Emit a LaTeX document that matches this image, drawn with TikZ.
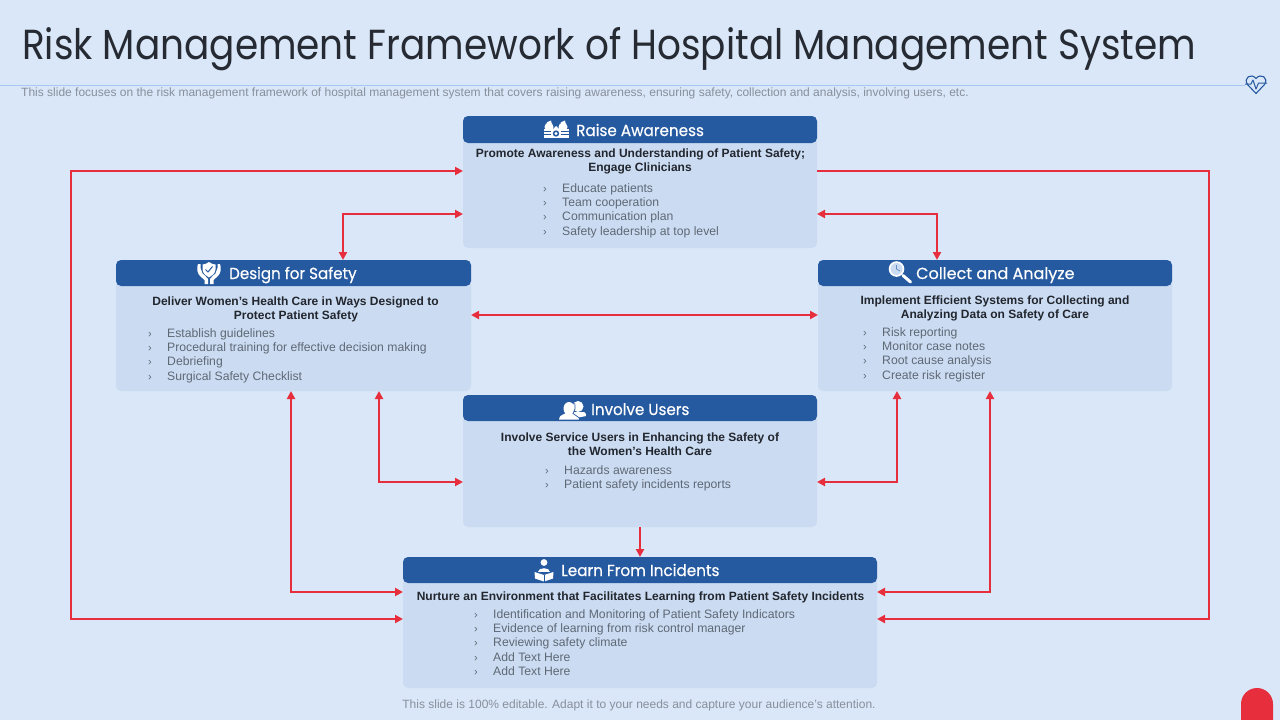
\documentclass[tikz,border=0pt]{standalone}
\usepackage{fontspec}
\setmainfont{Liberation Sans}
\newfontfamily\headf{Poppins}
\newfontfamily\headb[FakeBold=0.35]{Poppins}
\usetikzlibrary{arrows.meta,calc}
\definecolor{bgc}{HTML}{DAE7F8}
\definecolor{bodyc}{HTML}{CBDCF2}
\definecolor{headc}{HTML}{265AA0}
\definecolor{redc}{HTML}{E62E3D}
\definecolor{titlec}{HTML}{262B33}
\definecolor{boldc}{HTML}{22262E}
\definecolor{itemc}{HTML}{5F6875}
\definecolor{subc}{HTML}{878F9B}
\definecolor{rulec}{HTML}{A6C8F2}
\tikzset{
  panel/.style={anchor=north west,inner sep=0pt,outer sep=0pt,fill=bodyc,rounded corners=5pt},
  header/.style={anchor=north west,inner sep=0pt,outer sep=0pt,fill=headc,rounded corners=5pt},
  headtxt/.style={anchor=base west,inner sep=0pt,text=white,font=\headb\fontsize{16}{18}\selectfont},
  leadtxt/.style={anchor=base,inner sep=0pt,text=boldc,font=\bfseries\fontsize{12}{14}\selectfont},
  itemtxt/.style={anchor=base west,inner sep=0pt,text=itemc,font=\fontsize{12.2}{14}\selectfont},
  chev/.style={anchor=base west,inner sep=0pt,text=itemc,font=\fontsize{11}{14}\selectfont},
  conn/.style={draw=redc,line width=2pt},
  both/.style={conn,{Triangle[length=8pt,width=8pt]}-{Triangle[length=8pt,width=8pt]}},
  one/.style={conn,-{Triangle[length=8pt,width=8pt]}},
  icon/.style={fill=white,draw=none},
  iconl/.style={draw=white,fill=none},
}
\newcommand{\bul}[4]{%
  \node[chev] (#1c) at (#2-19,#3+0.5) {›};
  \node[itemtxt] (#1) at (#2,#3) {#4};}
\begin{document}
\begin{tikzpicture}[x=1pt,y=-1pt]
\useasboundingbox (0,0) rectangle (1280,720);
\fill[bgc] (0,0) rectangle (1280,720);

% title area
\node[anchor=base west,inner sep=0pt,text=titlec,font=\headf\fontsize{42}{46}\selectfont] (title) at (22,59.5) {\scalebox{0.891}[1]{Risk Management Framework of Hospital Management System}};
\draw[rulec,line width=0.8pt] (0,85) -- (1245,85);
\node[anchor=base west,inner sep=0pt,text=subc,font=\fontsize{12}{14}\selectfont] (sub) at (21,96) {This slide focuses on the risk management framework of hospital management system that covers raising awareness, ensuring safety, collection and analysis, involving users, etc.};
% heart icon
\draw[headc,line width=1.1pt,line join=round] (1256,93.5) -- (1247.5,84.5) .. controls (1243,78) and (1251,72.5) .. (1256,78.5) .. controls (1261,72.5) and (1269,78) .. (1264.5,84.5) -- cycle;
\draw[headc,line width=1pt,line join=round] (1245,84) -- (1251,84) -- (1253,80) -- (1256,89) -- (1258.5,83) -- (1267,83);

% panels
\node[panel,minimum width=354pt,minimum height=132pt] (raise) at (463,116) {};
\node[header,minimum width=354pt,minimum height=27pt] (raiseh) at (463,116) {};
\node[panel,minimum width=355pt,minimum height=131pt] (design) at (116,260) {};
\node[header,minimum width=355pt,minimum height=26pt] (designh) at (116,260) {};
\node[panel,minimum width=354pt,minimum height=131pt] (collect) at (818,260) {};
\node[header,minimum width=354pt,minimum height=26pt] (collecth) at (818,260) {};
\node[panel,minimum width=354pt,minimum height=132pt] (involve) at (463,395) {};
\node[header,minimum width=354pt,minimum height=26pt] (involveh) at (463,395) {};
\node[panel,minimum width=474pt,minimum height=131pt] (learn) at (403,557) {};
\node[header,minimum width=474pt,minimum height=26pt] (learnh) at (403,557) {};

% headings
\node[headtxt] (t1) at (576,136) {\scalebox{0.95}[1]{Raise Awareness}};
\node[headtxt] (t2) at (229,279) {\scalebox{0.945}[1]{Design for Safety}};
\node[headtxt] (t3) at (916,279) {\scalebox{1}[1]{Collect and Analyze}};
\node[headtxt] (t4) at (591,415) {\scalebox{0.945}[1]{Involve Users}};
\node[headtxt] (t5) at (561,576) {\scalebox{0.953}[1]{Learn From Incidents}};

% lead texts
\node[leadtxt] (l1a) at (640.5,157) {Promote Awareness and Understanding of Patient Safety;};
\node[leadtxt] (l1b) at (640,171) {Engage Clinicians};
\node[leadtxt] (l2a) at (295.5,305) {Deliver Women’s Health Care in Ways Designed to};
\node[leadtxt] (l2b) at (296,319) {Protect Patient Safety};
\node[leadtxt] (l3a) at (995,304) {Implement Efficient Systems for Collecting and};
\node[leadtxt] (l3b) at (995,318) {Analyzing Data on Safety of Care};
\node[leadtxt] (l4a) at (640,441) {Involve Service Users in Enhancing the Safety of};
\node[leadtxt] (l4b) at (640,455) {the Women’s Health Care};
\node[leadtxt] (l5a) at (640.5,600) {Nurture an Environment that Facilitates Learning from Patient Safety Incidents};

% items
\bul{a1}{562}{192}{Educate patients}
\bul{a2}{562}{206}{Team cooperation}
\bul{a3}{562}{220}{Communication plan}
\bul{a4}{562}{235}{Safety leadership at top level}
\bul{b1}{167}{337}{Establish guidelines}
\bul{b2}{167}{351}{Procedural training for effective decision making}
\bul{b3}{167}{365}{Debriefing}
\bul{b4}{167}{380}{Surgical Safety Checklist}
\bul{c1}{882}{336}{Risk reporting}
\bul{c2}{882}{350}{Monitor case notes}
\bul{c3}{882}{364}{Root cause analysis}
\bul{c4}{882}{379}{Create risk register}
\bul{d1}{564}{474}{Hazards awareness}
\bul{d2}{564}{488}{Patient safety incidents reports}
\bul{e1}{493}{618}{Identification and Monitoring of Patient Safety Indicators}
\bul{e2}{493}{632}{Evidence of learning from risk control manager}
\bul{e3}{493}{646}{Reviewing safety climate}
\bul{e4}{493}{661}{Add Text Here}
\bul{e5}{493}{675}{Add Text Here}

\node[anchor=base,inner sep=0pt,text=subc,font=\fontsize{12}{14}\selectfont] (foot) at (639,708) {This slide is 100\% editable. Adapt it to your needs and capture your audience’s attention.};

% connector ports
\coordinate (railL) at (71,0);
\coordinate (railR) at (1209,0);
\coordinate (ra1) at ($(raise.north west)+(0,55)$);
\coordinate (ra2) at ($(raise.north west)+(0,98)$);
\coordinate (rb1) at ($(raise.north east)+(0,55)$);
\coordinate (rb2) at ($(raise.north east)+(0,98)$);
\coordinate (dTop) at ($(design.north west)+(227,0)$);
\coordinate (cTop) at ($(collect.north west)+(119,0)$);
\coordinate (dE) at ($(design.north east)+(0,55)$);
\coordinate (cW) at ($(collect.north west)+(0,55)$);
\coordinate (dB1) at ($(design.south west)+(175,0)$);
\coordinate (dB2) at ($(design.south west)+(263,0)$);
\coordinate (cB1) at ($(collect.south west)+(79,0)$);
\coordinate (cB2) at ($(collect.south west)+(172,0)$);
\coordinate (iW) at ($(involve.north west)+(0,87)$);
\coordinate (iE) at ($(involve.north east)+(0,87)$);
\coordinate (lW1) at ($(learn.north west)+(0,35)$);
\coordinate (lW2) at ($(learn.north west)+(0,62)$);
\coordinate (lE1) at ($(learn.north east)+(0,35)$);
\coordinate (lE2) at ($(learn.north east)+(0,62)$);

% connectors
\draw[one] (rb1) -- (railR |- rb1) -- (railR |- lE2) -- (lE2);
\draw[both] (lW2) -- (railL |- lW2) -- (railL |- ra1) -- (ra1);
\draw[both] (ra2) -| (dTop);
\draw[both] (rb2) -| (cTop);
\draw[both] (dE) -- (cW);
\draw[both] (dB1) |- (lW1);
\draw[both] (dB2) |- (iW);
\draw[both] (cB1) |- (iE);
\draw[both] (cB2) |- (lE1);
\draw[one] (involve.south) -- (learn.north);

% corner tab
\fill[redc] (1241,720) -- (1241,704) arc[start angle=180,end angle=0,x radius=16,y radius=-16] -- (1273,720) -- cycle;

% icon: raise awareness
\fill[icon] (543.5,129) rectangle (569,138);
\fill[icon] (549,127) circle[radius=4.5];
\fill[icon] (563,127) circle[radius=4.5];
\fill[icon] (546.5,122.5) -- (551,120.5) -- (552,125) -- cycle;
\fill[icon] (560.5,122.5) -- (565,120.5) -- (566,125) -- cycle;
\fill[icon] (551,131) -- (556,126) -- (561,131) -- cycle;
\fill[headc] (556,133.5) circle[radius=3.2];
\fill[icon] (556,133.5) circle[radius=1.7];
\draw[headc,line width=0.7pt] (544,131.5) -- (551,131.5) (544,134) -- (551,134) (561,131.5) -- (568.5,131.5) (561,134) -- (568.5,134);

% icon: hands and shield
\fill[icon] (209,262) .. controls (206,264) and (204,264.5) .. (202.5,264.5) -- (202.5,269.5) .. controls (203,273.5) and (206,276) .. (209,277.5) .. controls (212,276) and (215,273.5) .. (215.5,269.5) -- (215.5,264.5) .. controls (214,264.5) and (212,264) .. (209,262) -- cycle;
\draw[headc,line width=1pt] (205.5,269.5) -- (208,272) -- (212.5,266.5);
\fill[icon] (198,264) .. controls (196.5,268) and (197,273) .. (200,276) -- (204.5,280) -- (204.5,284) -- (208,284) -- (208,279) .. controls (207,276.5) and (204,275.5) .. (202.5,273.5) -- (200.5,268) -- (200.5,264) -- cycle;
\fill[icon] (220,264) .. controls (221.5,268) and (221,273) .. (218,276) -- (213.5,280) -- (213.5,284) -- (210,284) -- (210,279) .. controls (211,276.5) and (214,275.5) .. (215.5,273.5) -- (217.5,268) -- (217.5,264) -- cycle;

% icon: magnifier
\fill[icon] (896.5,269) circle[radius=7.8];
\fill[bodyc] (896.5,269) circle[radius=6];
\draw[headc!70!white,line width=0.7pt] (896.5,265) -- (896.5,269) -- (900,271);
\draw[iconl,line width=3pt,line cap=round] (903,275.5) -- (910.5,282);

% icon: users
\fill[icon] (578,403) ++(0,3.5) circle[radius=5.5];
\fill[icon] (571,412) -- (584,412) .. controls (586,413) and (586.5,414.5) .. (586,416) -- (576,418) -- cycle;
\fill[icon] (569,408.5) ellipse[x radius=5.5,y radius=6.5];
\fill[icon] (559,419.5) .. controls (559,415) and (564,414.5) .. (566,413) -- (572,413) .. controls (574,414.5) and (579,415) .. (579,419.5) -- cycle;
\draw[headc,line width=0.7pt] (574.7,403) .. controls (575.5,408) and (575,411) .. (573,413.5) -- (579.5,418);

% icon: reader
\fill[icon] (544,562.5) circle[radius=3.4];
\fill[icon] (538,571.5) .. controls (538,566.5) and (550,566.5) .. (550,571.5) -- cycle;
\fill[icon] (534.5,572) -- (544,575) -- (553.5,572) -- (553,578.5) -- (544,581.5) -- (535,578.5) -- cycle;
\draw[headc,line width=0.7pt] (544,574.5) -- (544,581.5);
\end{tikzpicture}
\end{document}
